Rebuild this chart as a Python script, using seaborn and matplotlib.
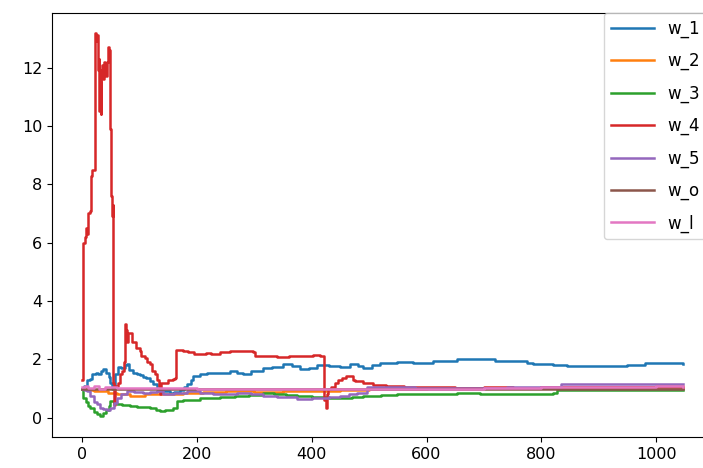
import matplotlib
matplotlib.use("Agg")
import matplotlib.pyplot as plt
from matplotlib.transforms import Bbox
import pandas as pd
import seaborn as sns

# values (x = step, y = weight)
w_1_x = [0, 4, 8, 14, 18, 24, 28, 32, 37, 42, 46, 49, 52, 55, 58, 62, 68, 74, 78, 82,
         88, 95, 100, 106, 112, 118, 124, 130, 136, 145, 153, 160, 170, 178, 183, 190,
         194, 205, 218, 235, 258, 270, 281, 295, 315, 330, 350, 365, 380, 395, 409, 430,
         450, 467, 480, 490, 505, 519, 549, 577, 611, 653, 681, 720, 760, 775, 786, 820,
         845, 880, 915, 950, 980, 1002, 1030, 1047]
w_1_y = [1.0, 1.1, 1.3, 1.33, 1.5, 1.55, 1.5, 1.6, 1.67, 1.55, 1.4, 1.2, 1.0, 1.1, 1.5,
         1.75, 1.7, 1.8, 1.85, 1.65, 1.55, 1.5, 1.45, 1.4, 1.35, 1.26, 1.15, 1.0, 0.92,
         0.9, 0.85, 0.88, 0.95, 1.05, 1.15, 1.3, 1.43, 1.5, 1.53, 1.55, 1.6, 1.55, 1.5,
         1.6, 1.7, 1.75, 1.84, 1.78, 1.67, 1.72, 1.8, 1.78, 1.74, 1.84, 1.78, 1.7, 1.82,
         1.88, 1.9, 1.88, 1.95, 2.0, 2.0, 1.95, 1.93, 1.88, 1.84, 1.8, 1.78, 1.76, 1.78,
         1.8, 1.86, 1.88, 1.86, 1.84]

w_2_x = [0, 10, 20, 31, 45, 60, 84, 110, 140, 176, 210, 250, 300, 350, 400, 450, 500,
         600, 700, 800, 900, 1000, 1047]
w_2_y = [1.0, 0.95, 0.9, 0.9, 0.85, 0.8, 0.75, 0.8, 0.82, 0.85, 0.88, 0.9, 0.88, 0.9,
         0.92, 0.95, 1.0, 1.02, 1.03, 1.05, 1.07, 1.08, 1.07]

w_3_x = [0, 2, 6, 10, 14, 20, 26, 31, 37, 42, 46, 49, 55, 61, 70, 84, 95, 105, 118, 128,
         136, 145, 159, 165, 175, 190, 206, 220, 240, 266, 290, 315, 335, 355, 374, 400,
         430, 449, 470, 490, 520, 549, 600, 624, 653, 693, 740, 786, 820, 828, 900, 960,
         1000, 1047]
w_3_y = [1.0, 0.68, 0.55, 0.4, 0.33, 0.2, 0.13, 0.05, 0.16, 0.25, 0.4, 0.57, 0.5, 0.46,
         0.45, 0.4, 0.38, 0.36, 0.33, 0.28, 0.23, 0.25, 0.33, 0.57, 0.6, 0.62, 0.68, 0.66,
         0.7, 0.75, 0.78, 0.85, 0.8, 0.78, 0.75, 0.72, 0.68, 0.68, 0.72, 0.75, 0.78, 0.8,
         0.82, 0.8, 0.85, 0.82, 0.8, 0.8, 0.86, 0.94, 0.95, 0.96, 0.95, 0.95]

w_4_x = [0, 2, 5, 7, 9, 11, 13, 15, 17, 21, 23, 25, 26, 27, 28, 29, 30, 31, 32, 33, 35,
         37, 38, 40, 42, 44, 45, 47, 48, 49, 50, 51, 52, 53, 54, 55, 57, 58, 62, 66, 70,
         73, 75, 77, 78, 80, 84, 86, 92, 94, 101, 103, 110, 113, 118, 121, 127, 130, 134,
         136, 138, 145, 150, 159, 162, 163, 175, 185, 195, 206, 215, 225, 240, 258, 275,
         298, 302, 320, 340, 360, 380, 402, 415, 421, 422, 424, 426, 428, 434, 440, 446,
         452, 460, 467, 472, 476, 490, 507, 530, 560, 600, 650, 700, 750, 800, 850, 900,
         950, 1000, 1047]
w_4_y = [1.3, 6.0, 6.2, 6.5, 6.3, 7.0, 7.1, 8.3, 8.5, 8.5, 13.2, 12.9, 13.1, 12.4, 11.9,
         12.3, 10.5, 11.5, 10.4, 11.9, 12.1, 11.6, 12.2, 11.8, 11.7, 12.2, 12.7, 12.6,
         11.0, 9.9, 9.5, 7.6, 6.9, 7.3, 1.2, 0.45, 0.5, 1.1, 1.2, 1.5, 1.6, 1.9, 3.2, 3.0,
         2.6, 2.9, 2.9, 2.6, 2.6, 2.4, 2.3, 2.1, 2.05, 1.9, 1.85, 1.6, 1.5, 1.3, 1.1, 0.8,
         1.2, 1.2, 1.3, 1.33, 1.35, 2.32, 2.3, 2.25, 2.2, 2.18, 2.22, 2.2, 2.25, 2.3, 2.29,
         2.25, 2.12, 2.1, 2.08, 2.12, 2.1, 2.15, 2.1, 2.1, 0.6, 0.35, 0.8, 1.0, 1.05, 1.2,
         1.3, 1.36, 1.43, 1.43, 1.3, 1.25, 1.18, 1.12, 1.08, 1.06, 1.04, 1.02, 1.05, 1.03,
         1.05, 1.04, 1.06, 1.05, 1.04, 1.03]

w_5_x = [0, 4, 8, 14, 20, 26, 31, 37, 43, 49, 55, 61, 68, 78, 90, 106, 118, 130, 141, 160,
         183, 205, 228, 250, 270, 295, 315, 340, 374, 400, 430, 449, 465, 479, 496, 530,
         580, 640, 690, 740, 800, 830, 835, 880, 930, 980, 1047]
w_5_y = [1.0, 0.95, 0.9, 0.75, 0.55, 0.46, 0.35, 0.3, 0.28, 0.33, 0.5, 0.68, 0.8, 0.9,
         0.88, 0.85, 0.88, 0.9, 0.8, 0.85, 0.9, 0.85, 0.8, 0.82, 0.85, 0.8, 0.75, 0.7,
         0.64, 0.68, 0.72, 0.75, 0.8, 0.85, 1.05, 1.05, 1.03, 1.02, 1.03, 1.05, 1.04,
         1.04, 1.15, 1.16, 1.15, 1.17, 1.15]

w_o_x = [0, 1047]
w_o_y = [1.0, 1.0]

w_l_x = [0, 5, 10, 20, 30, 40, 60, 100, 150, 200, 300, 400, 500, 600, 700, 800, 900,
         1000, 1047]
w_l_y = [1.05, 1.1, 1.02, 1.08, 1.0, 1.05, 1.02, 1.03, 1.02, 1.0, 1.0, 0.98, 1.0, 1.0,
         1.02, 1.05, 1.06, 1.08, 1.06]

series = {
    "w_1": (w_1_x, w_1_y),
    "w_2": (w_2_x, w_2_y),
    "w_3": (w_3_x, w_3_y),
    "w_4": (w_4_x, w_4_y),
    "w_5": (w_5_x, w_5_y),
    "w_o": (w_o_x, w_o_y),
    "w_l": (w_l_x, w_l_y),
}

frames = []
for name, (xs, ys) in series.items():
    frames.append(pd.DataFrame({"step": xs, "value": ys, "weight": name}))
df = pd.concat(frames, ignore_index=True)

plt.rcParams['font.family'] = ['DejaVu Sans']

# draw on a wider canvas, then save only the left 703 px (the reference is a crop)
FW, FH = 760, 468
fig = plt.figure(figsize=(FW / 100, FH / 100), dpi=100)
ax = fig.add_axes([52 / FW, 31 / FH, 663 / FW, 424 / FH])

sns.lineplot(data=df, x="step", y="value", hue="weight", hue_order=list(series),
             palette="tab10", estimator=None, sort=False, linewidth=1.8,
             drawstyle="steps-post", ax=ax)

ax.set_xlim(-52.5, 1102.5)
ax.set_ylim(-0.66, 13.87)
ax.set_xticks([0, 200, 400, 600, 800, 1000])
ax.set_yticks([0, 2, 4, 6, 8, 10, 12])
ax.set_xlabel("")
ax.set_ylabel("")
ax.tick_params(labelsize=11.5)

sns.move_legend(ax, "upper left", bbox_to_anchor=((604 - 52) / 663, 1.0),
                borderaxespad=0, title=None, fontsize=12, labelspacing=0.85,
                handlelength=2.6, frameon=True)

fig.savefig("out.png", dpi=100, bbox_inches=Bbox.from_bounds(0, 0, 7.03, 4.68))
